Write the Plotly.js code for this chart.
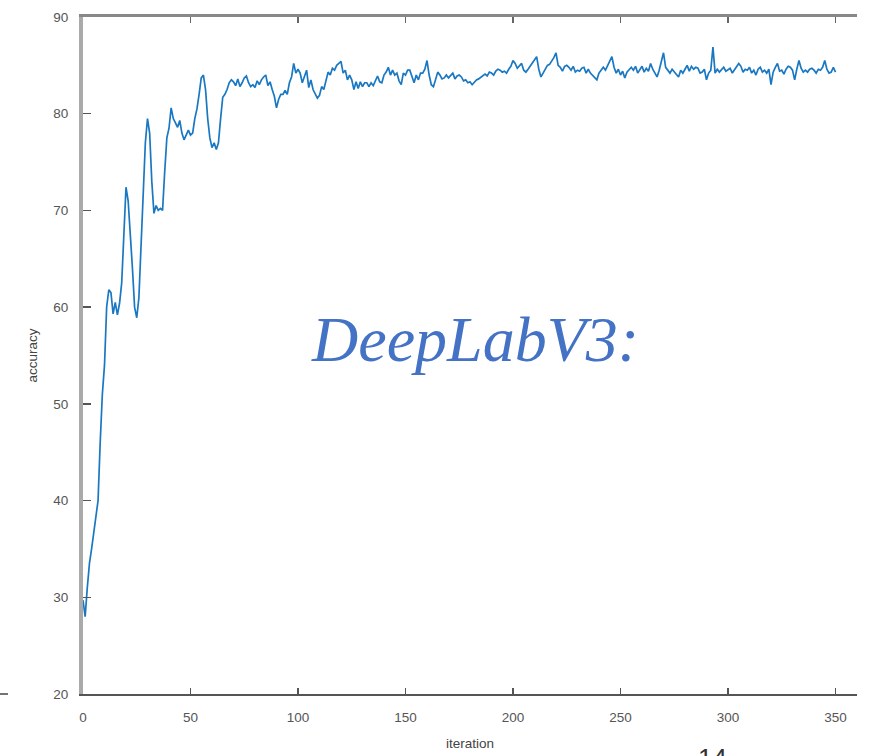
<!DOCTYPE html>
<html>
<head>
<meta charset="utf-8">
<script src="https://cdn.plot.ly/plotly-3.0.1.min.js"></script>
<style>html,body{margin:0;padding:0;background:#fff;}#chart{width:871px;height:756px;}</style>
</head>
<body>
<div id="chart"></div>
<script>
// accuracy per iteration (0..350)
const accuracy = [
  29.7, 28.0, 31.0, 33.5, 35.0, 36.5, 38.0, 40.0, 46.0, 51.0,
  54.0, 60.0, 61.8, 61.5, 59.3, 60.5, 59.2, 60.4, 62.5, 67.0,
  72.4, 71.0, 68.0, 64.0, 60.0, 58.9, 61.0, 66.0, 72.0, 77.0,
  79.5, 78.0, 73.0, 69.7, 70.5, 70.0, 70.2, 70.0, 74.0, 77.5,
  78.5, 80.6, 79.5, 79.0, 78.6, 79.3, 78.0, 77.3, 77.8, 78.3,
  77.8, 78.0, 79.5, 80.5, 82.0, 83.7, 84.0, 82.5, 79.5, 77.5,
  76.5, 77.0, 76.3, 77.0, 79.5, 81.7, 82.0, 82.5, 83.2, 83.5,
  83.3, 82.9, 83.6, 82.8, 83.2, 83.7, 83.9, 83.2, 82.8, 83.0,
  82.7, 83.4, 83.0, 83.5, 83.8, 84.0, 82.9, 83.3, 82.5, 81.8,
  80.6, 81.5, 82.0, 82.0, 82.4, 82.0, 83.2, 83.8, 85.2, 84.2,
  84.6, 84.2, 83.2, 83.8, 84.5, 82.7, 83.5, 82.5, 82.0, 81.6,
  81.9, 82.8, 82.5, 83.4, 84.3, 84.0, 84.7, 84.5, 85.0, 85.2,
  85.4, 84.2, 84.5, 83.5, 84.0, 83.5, 82.5, 83.3, 82.6, 83.3,
  82.8, 83.2, 83.2, 82.8, 83.2, 82.9, 83.5, 83.9, 83.3, 83.2,
  84.0, 84.3, 84.8, 84.0, 84.5, 84.0, 84.2, 83.4, 83.0, 84.2,
  84.0, 84.5, 84.5, 83.8, 83.2, 84.0, 83.5, 84.2, 84.2, 84.6,
  85.5, 84.0, 83.0, 82.8, 83.6, 84.3, 84.0, 83.6, 83.7, 84.0,
  83.7, 84.0, 84.2, 83.6, 83.9, 84.0, 83.8, 83.4, 83.5, 83.2,
  83.3, 83.0, 83.3, 83.5, 83.6, 83.8, 83.9, 84.1, 83.9, 84.3,
  84.2, 84.0, 84.4, 84.6, 84.5, 84.3, 84.4, 84.2, 84.6, 84.9,
  85.5, 85.2, 84.7, 85.0, 85.2, 84.5, 84.3, 84.6, 84.9, 85.3,
  85.5, 85.9, 84.6, 83.8, 84.2, 84.6, 85.0, 85.1, 85.4, 85.8,
  86.3, 85.0, 84.8, 84.4, 84.9, 85.0, 84.8, 84.5, 84.9, 84.3,
  84.5, 84.4, 84.7, 84.8, 84.2, 84.6, 84.2, 84.0, 83.7, 83.5,
  84.2, 84.5, 84.8, 84.5, 85.0, 85.5, 85.9, 84.8, 84.2, 84.6,
  84.0, 84.4, 83.7, 84.3, 84.6, 84.8, 84.5, 84.9, 84.2, 84.5,
  84.9, 84.3, 84.7, 84.4, 85.2, 84.6, 84.2, 83.8, 84.5, 85.3,
  86.3, 84.8, 84.5, 84.2, 84.6, 84.3, 84.0, 83.8, 84.5, 84.2,
  84.6, 85.0, 84.4, 84.9, 84.6, 84.8, 84.7, 84.2, 84.3, 84.6,
  83.5, 84.2, 84.5, 86.9, 84.2, 84.6, 84.3, 84.5, 84.8, 84.4,
  84.6, 84.7, 84.2, 84.5, 84.8, 85.2, 84.9, 84.3, 84.6, 84.5,
  84.8, 84.2, 84.5, 84.0, 84.6, 84.8, 84.3, 84.5, 84.2, 84.6,
  83.0, 84.3, 84.8, 85.2, 84.4, 84.5, 84.1, 84.6, 84.9, 84.8,
  84.5, 83.5, 84.6, 85.5, 84.7, 84.3, 84.5, 84.3, 84.6, 84.7,
  84.5, 84.2, 84.6, 84.5, 84.8, 85.5, 84.6, 84.2, 84.3, 84.8,
  84.3
];
const iterations = accuracy.map((_, i) => i);
const xTicks = [0, 50, 100, 150, 200, 250, 300, 350];
const yTicks = [20, 30, 40, 50, 60, 70, 80, 90];
const xTitle = "iteration";
const yTitle = "accuracy";
const overlayText = "DeepLabV3:";
const pageNumber = "14";

const tickFont = {family: "Liberation Sans, Arial, sans-serif", size: 13.5, color: "#555"};

const traces = [
  {x: iterations, y: accuracy, type: "scatter", mode: "lines",
   line: {color: "#1a78c2", width: 1.7}, showlegend: false, hoverinfo: "skip"},
  {x: [], y: [], xaxis: "x2", type: "scatter", mode: "lines", showlegend: false}
];

const layout = {
  width: 871, height: 756,
  margin: {l: 83, r: 14, t: 17, b: 62, pad: 0},
  paper_bgcolor: "#fff", plot_bgcolor: "#fff",
  showlegend: false,
  xaxis: {
    range: [0, 360], tickvals: xTicks, ticktext: xTicks.map(String),
    ticks: "inside", ticklen: 6, tickwidth: 1.5, tickcolor: "#555",
    showline: true, linecolor: "#555", linewidth: 2,
    showgrid: false, zeroline: false, tickfont: tickFont,
    ticklabelstandoff: 10,
    title: {text: xTitle, font: {family: "Liberation Sans, Arial, sans-serif", size: 13.5, color: "#444"}, standoff: 14}
  },
  xaxis2: {
    overlaying: "x", side: "top", matches: "x", range: [0, 360],
    tickvals: xTicks, showticklabels: false,
    ticks: "inside", ticklen: 6, tickwidth: 1.5, tickcolor: "#666",
    showline: true, linecolor: "#888", linewidth: 3,
    showgrid: false, zeroline: false
  },
  yaxis: {
    range: [20, 90], tickvals: yTicks, ticktext: yTicks.map(String),
    ticks: "inside", ticklen: 8, tickwidth: 1.5, tickcolor: "#555",
    showline: true, linecolor: "#aaaaaa", linewidth: 4,
    showgrid: false, zeroline: false, tickfont: tickFont,
    ticklabelstandoff: 8,
    title: {text: yTitle, font: {family: "Liberation Sans, Arial, sans-serif", size: 13.5, color: "#444"}, standoff: 14}
  },
  annotations: [
    {xref: "paper", yref: "paper", x: 0.507, y: 0.523, xanchor: "center", yanchor: "middle",
     text: overlayText, showarrow: false,
     font: {family: "Liberation Serif, DejaVu Serif, serif", style: "italic", size: 64, color: "#4472C4"}},
    {xref: "paper", yref: "paper", x: 0.8127, y: -0.069, xanchor: "center", yanchor: "top",
     text: pageNumber, showarrow: false,
     font: {family: "Liberation Sans, Arial, sans-serif", size: 26, color: "#333"}}
  ],
  shapes: [
    {type: "line", xref: "paper", yref: "paper", x0: -0.1072, x1: -0.0969, y0: 0, y1: 0,
     line: {color: "#444", width: 1.5}}
  ]
};

Plotly.newPlot("chart", traces, layout, {displayModeBar: false, staticPlot: true});
</script>
</body>
</html>
